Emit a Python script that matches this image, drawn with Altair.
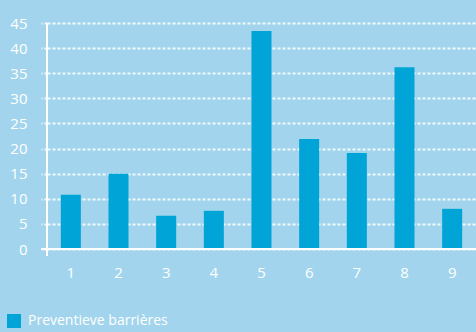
import altair as alt
import pandas as pd

categories = ["1", "2", "3", "4", "5", "6", "7", "8", "9"]
values = [10.8, 15.0, 6.6, 7.6, 43.4, 21.9, 19.1, 36.2, 8.0]
series = "Preventieve barrières"
y_ticks = [0, 5, 10, 15, 20, 25, 30, 35, 40, 45]

df = pd.DataFrame({"cat": categories, "val": values, "series": [series] * len(values)})

BG = "#a2d5ed"
BAR = "#00a4d6"
FONT = "Open Sans"
W, H = 429, 226

x = alt.X("cat:N", sort=categories,
          scale=alt.Scale(paddingInner=0.58, paddingOuter=0.29),
          axis=alt.Axis(title=None, labelAngle=0, domain=False, ticks=False,
                        labelPadding=16, labelFontSize=15, labelColor="white",
                        labelFont=FONT))
y = alt.Y("val:Q", scale=alt.Scale(domain=[0, 45], nice=False),
          axis=alt.Axis(title=None, values=y_ticks, domain=False,
                        grid=True, gridColor="white", gridDash=[3, 2], gridWidth=1.8,
                        gridOpacity=0.85,
                        ticks=True, tickSize=6, tickColor="white", tickDash=[3, 2], tickWidth=1.8,
                        tickOpacity=0.85,
                        labelPadding=14, labelFontSize=15, labelColor="white", labelFont=FONT))

bars = alt.Chart(df).mark_bar(color=BAR).encode(
    x=x, y=y,
    color=alt.Color("series:N", scale=alt.Scale(range=[BAR]),
                    legend=alt.Legend(title=None, orient="none", legendX=-40, legendY=291,
                                      symbolType="square", symbolSize=196,
                                      symbolStrokeWidth=0, labelFontSize=14,
                                      labelColor="white", labelFont=FONT, labelOffset=7))
)

base_line = alt.Chart(df).mark_rule(color="white", strokeWidth=1.5).encode(
    x=alt.value(-6), x2=alt.value(W), y=alt.value(H))
y_line = alt.Chart(df).mark_rule(color="white", strokeWidth=1.5).encode(
    x=alt.value(0), y=alt.value(0), y2=alt.value(H + 7))

chart = alt.layer(bars, base_line, y_line).properties(
    width=W, height=H,
    background=BG,
    padding={"left": 47, "top": 23, "right": 0, "bottom": 83},
    autosize=alt.AutoSizeParams(type="none"),
).configure_view(stroke=None)

chart.save("out.html", embed_options={"renderer": "svg", "actions": False})
